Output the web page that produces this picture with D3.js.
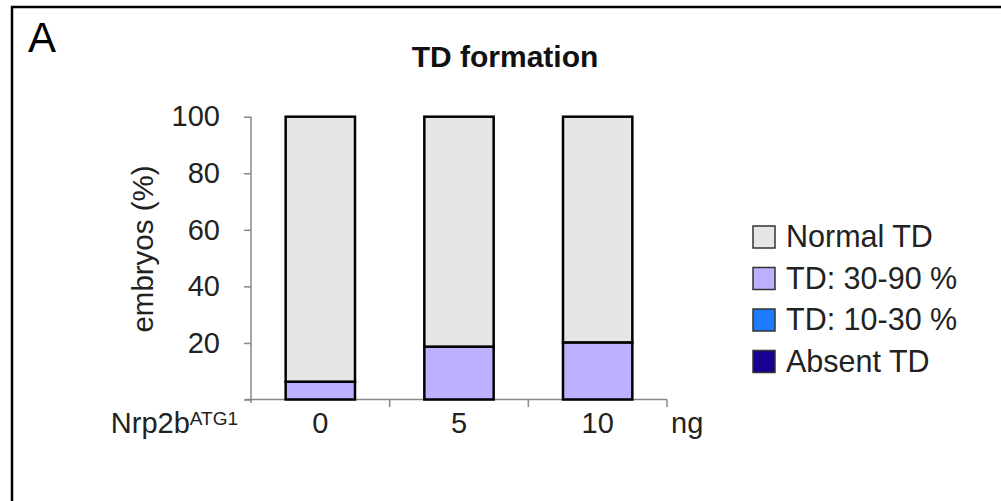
<!DOCTYPE html>
<html><head><meta charset="utf-8">
<script src="https://cdn.jsdelivr.net/npm/d3@7"></script>
<style>body{margin:0;background:#fff}svg{display:block;font-family:"Liberation Sans",Arial,sans-serif}</style>
</head><body><svg id="c" width="1001" height="501"></svg>
<script>
const categories = ["0", "5", "10"];
const seriesNames = ["Absent TD", "TD: 10-30 %", "TD: 30-90 %", "Normal TD"];
const absentTD = [0, 0, 0];
const td10_30 = [0, 0, 0];
const td30_90 = [6.3, 18.7, 20.2];
const normalTD = [93.7, 81.3, 79.8];
const yTicks = [0, 20, 40, 60, 80, 100];
const colors = ["#1a0090", "#1f7bff", "#bdb0ff", "#e6e6e6"];

const svg = d3.select("#c");
// frame
svg.append("path").attr("d","M12,501 V7 H1001").attr("fill","none").attr("stroke","#000").attr("stroke-width",2.5);
svg.append("text").attr("x",28).attr("y",52).attr("font-size",42).attr("fill","#000").text("A");
svg.append("text").attr("x",505).attr("y",67).attr("text-anchor","middle").attr("font-size",30).attr("font-weight","bold").attr("fill","#111").text("TD formation");

const x = d3.scaleBand().domain(categories).range([251,667]).paddingInner(0.5).paddingOuter(0.25);
const y = d3.scaleLinear().domain([0,100]).range([399.5,116.7]);

const rows = categories.map((c,i)=>({cat:c,"Absent TD":absentTD[i],"TD: 10-30 %":td10_30[i],"TD: 30-90 %":td30_90[i],"Normal TD":normalTD[i]}));
const stack = d3.stack().keys(seriesNames)(rows);

// y axis
const yAxis = svg.append("g").attr("transform","translate(251,0)")
  .call(d3.axisLeft(y).tickValues(yTicks).tickSize(7).tickPadding(24).tickFormat(d=>d===0?"":d));
yAxis.selectAll("line,path").attr("stroke","#888").attr("stroke-width",1.5);
yAxis.select("path").attr("d","M0,116.7V403");
yAxis.selectAll("text").attr("font-size",29).attr("fill","#222").attr("font-family","Liberation Sans, Arial, sans-serif");

// x axis line and ticks
const step = x.step();
const xb = svg.append("g");
xb.append("line").attr("x1",245).attr("x2",667).attr("y1",399.5).attr("y2",399.5).attr("stroke","#888").attr("stroke-width",1.5);
categories.forEach((c,i)=>{
  const bx = 251 + step*(i+1);
  xb.append("line").attr("x1",bx).attr("x2",bx).attr("y1",399.5).attr("y2",407).attr("stroke","#888").attr("stroke-width",1.5);
});

// bars
stack.forEach((s,si)=>{
  svg.append("g").selectAll("rect").data(s.filter(d=>d[1]-d[0]>0)).join("rect")
    .attr("x",d=>x(d.data.cat)).attr("width",x.bandwidth())
    .attr("y",d=>y(d[1])).attr("height",d=>y(d[0])-y(d[1]))
    .attr("fill",colors[si]).attr("stroke","#000").attr("stroke-width",2.5);
});

// x labels
svg.append("g").selectAll("text").data(categories).join("text")
  .attr("x",d=>x(d)+x.bandwidth()/2).attr("y",433).attr("text-anchor","middle").attr("font-size",29).attr("fill","#222").text(d=>d);
svg.append("text").attr("x",671).attr("y",433).attr("font-size",29).attr("fill","#222").text("ng");
const nl = svg.append("text").attr("x",238).attr("y",433).attr("text-anchor","end").attr("font-size",29).attr("fill","#222");
nl.append("tspan").text("Nrp2b");
nl.append("tspan").attr("font-size",19).attr("dy",-8).text("ATG1");

// y label
svg.append("text").attr("transform","translate(153,249) rotate(-90)").attr("text-anchor","middle").attr("font-size",29.5).attr("fill","#222").text("embryos (%)");

// legend
const legendOrder = ["Normal TD","TD: 30-90 %","TD: 10-30 %","Absent TD"];
const lg = svg.append("g").selectAll("g").data(legendOrder).join("g")
  .attr("transform",(d,i)=>`translate(753,${247+i*41.5})`);
lg.append("rect").attr("y",-21).attr("width",22).attr("height",22).attr("fill",d=>colors[seriesNames.indexOf(d)]).attr("stroke","#333").attr("stroke-width",1.5);
lg.append("text").attr("x",33).attr("y",0).attr("font-size",30.5).attr("fill","#222").text(d=>d);
</script></body></html>
